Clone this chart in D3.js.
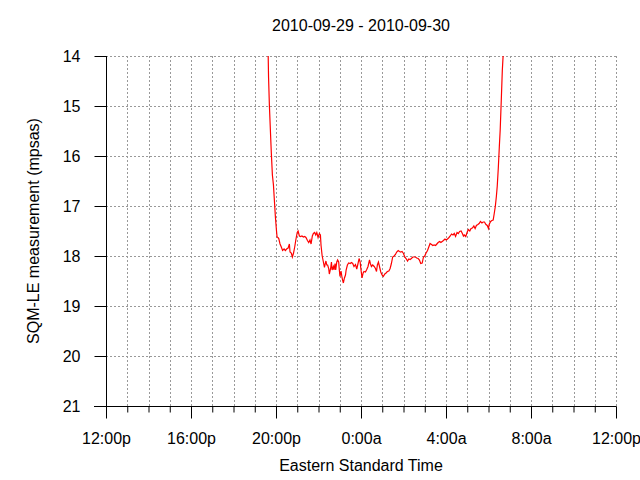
<!DOCTYPE html>
<html>
<head>
<meta charset="utf-8">
<script src="https://cdn.jsdelivr.net/npm/d3@7"></script>
<style>
  html, body { margin: 0; padding: 0; background: #fff; }
  svg { display: block; }
  text { font-family: "Liberation Sans", Arial, sans-serif; fill: #000; }
</style>
</head>
<body>
<svg id="chart" width="640" height="480"></svg>
<script>
// ---- data ----
const title = "2010-09-29 - 2010-09-30";
const xLabel = "Eastern Standard Time";
const yLabel = "SQM-LE measurement (mpsas)";
const xTickHours = [0, 4, 8, 12, 16, 20, 24];
const xTickLabels = ["12:00p", "16:00p", "20:00p", "0:00a", "4:00a", "8:00a", "12:00p"];
const yTicks = [14, 15, 16, 17, 18, 19, 20, 21];
// hours since 12:00p on 2010-09-29
const hours = [
  7.60, 7.65, 7.69, 7.74, 7.78, 7.83, 7.88, 7.92, 7.97, 8.02, 8.05,
  8.09, 8.13, 8.19, 8.25, 8.31, 8.38, 8.44, 8.50, 8.57, 8.63, 8.66, 8.72, 8.77,
  8.82, 8.88, 8.94, 9.00, 9.04, 9.10, 9.16, 9.22, 9.29, 9.35, 9.41, 9.48, 9.54,
  9.60, 9.65, 9.71, 9.76, 9.82, 9.87, 9.92, 9.98, 10.04, 10.09, 10.12, 10.17,
  10.23, 10.28, 10.32, 10.35, 10.39, 10.43, 10.48, 10.51, 10.57, 10.61, 10.64,
  10.70, 10.73, 10.78, 10.81, 10.86, 10.90, 10.95, 10.98, 11.01, 11.06, 11.11,
  11.17, 11.22, 11.27, 11.30, 11.36, 11.42, 11.49, 11.55, 11.61, 11.67, 11.74,
  11.80, 11.86, 11.91, 11.96, 12.00, 12.05, 12.10, 12.14, 12.21, 12.27, 12.33,
  12.40, 12.44, 12.49, 12.55, 12.62, 12.68, 12.73, 12.77, 12.82, 12.87, 12.93,
  12.99, 13.05, 13.12, 13.18, 13.24, 13.31, 13.37, 13.43, 13.49, 13.56, 13.62,
  13.68, 13.75, 13.81, 13.87, 13.93, 14.00, 14.06, 14.12, 14.19, 14.25, 14.31,
  14.37, 14.44, 14.50, 14.56, 14.62, 14.69, 14.75, 14.81, 14.88, 14.94, 15.00,
  15.05, 15.13, 15.19, 15.25, 15.32, 15.38, 15.44, 15.51, 15.57, 15.63, 15.70,
  15.76, 15.82, 15.88, 15.95, 16.01, 16.07, 16.14, 16.20, 16.26, 16.33, 16.39,
  16.45, 16.52, 16.58, 16.64, 16.71, 16.77, 16.82, 16.86, 16.93, 16.99, 17.05,
  17.12, 17.18, 17.24, 17.31, 17.37, 17.43, 17.50, 17.56, 17.62, 17.69, 17.75,
  17.81, 17.88, 17.94, 18.00, 18.03, 18.10, 18.16, 18.22, 18.27, 18.32, 18.37,
  18.41, 18.46, 18.51, 18.55, 18.60, 18.65, 18.70, 18.74, 18.79
];
// sky brightness, mag per square arcsecond
const mpsas = [
  13.20, 14.43, 15.00, 15.53, 15.94, 16.38, 16.58, 16.86, 17.21, 17.48, 17.62,
  17.63, 17.65, 17.76, 17.82, 17.89, 17.86, 17.89, 17.86, 17.84, 17.76, 17.92, 17.94, 18.02,
  17.95, 17.82, 17.66, 17.53, 17.50, 17.60, 17.61, 17.60, 17.62, 17.61, 17.63, 17.69, 17.73,
  17.68, 17.76, 17.60, 17.55, 17.53, 17.58, 17.53, 17.63, 17.55, 17.58, 17.79,
  17.99, 18.12, 18.23, 18.15, 18.10, 18.18, 18.18, 18.25, 18.36, 18.25, 18.12,
  18.28, 18.21, 18.28, 18.15, 18.28, 18.12, 18.08, 18.12, 18.28, 18.41, 18.30,
  18.44, 18.54, 18.44, 18.38, 18.28, 18.18, 18.14, 18.15, 18.13, 18.15, 18.21,
  18.17, 18.26, 18.15, 18.05, 18.12, 18.28, 18.44, 18.34, 18.31, 18.32, 18.27,
  18.21, 18.08, 18.15, 18.21, 18.18, 18.21, 18.25, 18.31, 18.18, 18.12, 18.21,
  18.32, 18.38, 18.41, 18.36, 18.34, 18.31, 18.30, 18.25, 18.15, 18.02, 18.00,
  17.97, 17.92, 17.89, 17.91, 17.92, 17.91, 17.95, 18.02, 18.05, 18.10, 18.06,
  18.07, 18.05, 18.02, 18.02, 18.02, 18.04, 18.05, 18.08, 18.15, 18.14, 18.02,
  18.00, 17.95, 17.89, 17.82, 17.75, 17.77, 17.79, 17.78, 17.79, 17.76, 17.73,
  17.71, 17.73, 17.71, 17.69, 17.66, 17.68, 17.66, 17.63, 17.60, 17.56, 17.58,
  17.55, 17.61, 17.53, 17.55, 17.51, 17.50, 17.55, 17.60, 17.58, 17.61, 17.53,
  17.47, 17.50, 17.45, 17.44, 17.40, 17.45, 17.39, 17.37, 17.35, 17.31, 17.34,
  17.32, 17.32, 17.37, 17.39, 17.45, 17.37, 17.31, 17.29, 17.28, 17.15, 17.01,
  16.81, 16.61, 16.25, 15.81, 15.48, 14.90, 14.29, 13.90, 13.50
];

// ---- layout ----
const svg = d3.select("#chart");
const mLeft = 106, mRight = 616, mTop = 56, mBottom = 406;

const x = d3.scaleLinear().domain([0, 24]).range([mLeft, mRight]);
const y = d3.scaleLinear().domain([14, 21]).range([mTop, mBottom]);

// grid
const grid = svg.append("g").attr("stroke", "#999").attr("stroke-width", 1)
  .attr("stroke-dasharray", "2,2").attr("shape-rendering", "crispEdges");
grid.selectAll("line.v").data(d3.range(1, 25)).join("line")
  .attr("class", "v")
  .attr("x1", d => Math.round(x(d)) + 0.5).attr("x2", d => Math.round(x(d)) + 0.5)
  .attr("y1", mTop).attr("y2", mBottom);
grid.selectAll("line.h").data(yTicks.filter(v => v < 21)).join("line")
  .attr("class", "h")
  .attr("x1", mLeft).attr("x2", mRight)
  .attr("y1", d => y(d) + 0.5).attr("y2", d => y(d) + 0.5);

// data line
svg.append("clipPath").attr("id", "clip").append("rect")
  .attr("x", mLeft).attr("y", mTop).attr("width", mRight - mLeft).attr("height", mBottom - mTop);
const pts = hours.map((h, i) => [h, mpsas[i]]);
svg.append("path")
  .datum(pts)
  .attr("clip-path", "url(#clip)")
  .attr("fill", "none")
  .attr("stroke", "#ff0000")
  .attr("stroke-width", 1.2)
  .attr("d", d3.line().x(d => x(d[0])).y(d => y(d[1])));

// axes
const xMinor = d3.axisBottom(x).tickValues(d3.range(0, 25)).tickSize(6).tickFormat("");
const gxm = svg.append("g").attr("transform", `translate(0,${mBottom + 0.5})`).call(xMinor);
const xMajor = d3.axisBottom(x).tickValues(xTickHours).tickSize(12).tickPadding(14)
  .tickFormat((d, i) => xTickLabels[i]);
const gx = svg.append("g").attr("transform", `translate(0,${mBottom + 0.5})`).call(xMajor);
const yAxis = d3.axisLeft(y).tickValues(yTicks).tickSize(12).tickPadding(14).tickFormat(d3.format("d"));
const gy = svg.append("g").attr("transform", `translate(${mLeft + 0.5},0)`).call(yAxis);

[gxm, gx, gy].forEach(g => {
  g.select(".domain").attr("stroke", "#000").attr("stroke-width", 1);
  g.selectAll(".tick line").attr("stroke", "#000").attr("stroke-width", 1);
  g.selectAll("text").style("font-family", '"Liberation Sans", Arial, sans-serif')
    .style("font-size", "16px").attr("fill", "#000");
});
gx.select(".domain").remove();
gxm.select(".domain").attr("d", `M${mLeft - 12},0H${mRight}`);
gy.select(".domain").attr("d", `M0,${mTop}V${mBottom}`);

// titles
svg.append("text").attr("x", 361).attr("y", 31).attr("text-anchor", "middle")
  .style("font-size", "16px").text(title);
svg.append("text").attr("x", 361).attr("y", 471).attr("text-anchor", "middle")
  .style("font-size", "16px").text(xLabel);
svg.append("text").attr("transform", `translate(39,${(mTop + mBottom) / 2}) rotate(-90)`)
  .attr("text-anchor", "middle").style("font-size", "16px").text(yLabel);
</script>
</body>
</html>
